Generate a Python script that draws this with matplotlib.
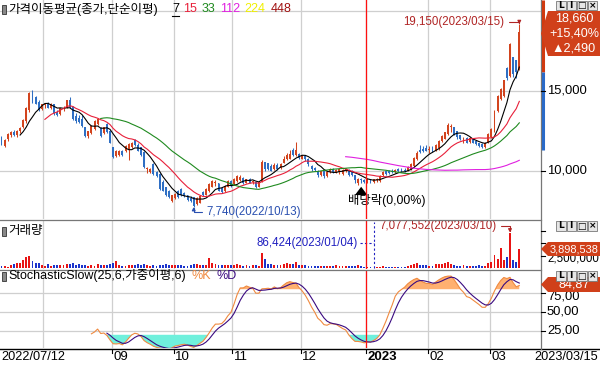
import numpy as np
import matplotlib
matplotlib.use("Agg")
import matplotlib.pyplot as plt
from matplotlib.patches import Polygon, Rectangle

# ---------------- data ----------------
open_ = [12050,11550,11950,12250,12400,12200,12450,12700,13100,13800,14950,14600,14300,13850,14100,14150,13950,14150,13650,13550,
         13900,13950,14450,14000,13400,13300,13250,12700,12150,12350,12600,12900,12650,12350,12900,12500,11450,10900,11000,11250,
         11200,11300,11450,11900,11600,11450,11150,10100,9900,10400,9900,9800,9300,8950,8750,8100,8300,8750,8850,8600,
         8450,8300,8350,7900,8000,8650,8500,8700,9000,9200,9200,8900,8700,9000,9350,9150,9350,9400,9550,9250,
         9450,9300,9300,9000,9300,10550,10450,10300,10100,10350,10150,10500,10700,10750,11300,10950,11050,10750,10900,10750,
         10300,10150,10000,9700,9950,9650,9900,10100,9900,9900,9800,9950,10050,10000,9700,9250,9500,9400,9300,9450,
         9300,9400,9350,9700,9950,9950,10000,9900,10100,10050,10050,10000,10100,10300,10700,11300,11350,11400,11300,11450,
         11250,11400,11850,12000,12300,12700,12750,12450,12200,11800,12050,11800,12000,11850,11700,11650,11450,11800,12100,12450,
         13700,14500,14700,16450,15900,17100,16900,16300]
high = [12150,12000,12350,12500,12550,12550,12700,13200,14000,14950,15050,14700,14400,14200,14250,14300,14250,14200,13800,13950,
        14050,14450,14600,14050,13600,13450,13450,12750,12500,12850,13150,13300,12700,12750,12950,12550,11500,11300,11300,11300,
        11600,11700,11800,11950,11700,11500,11200,10200,10150,10450,10000,9850,9400,9000,8800,8480,8600,8800,8900,8650,
        8480,8400,8380,8350,8480,8700,8900,9200,9420,9400,9250,8950,9100,9420,9400,9550,9730,9700,9600,9500,
        9520,9400,9320,9350,10670,10560,10500,10400,10450,10450,10450,10900,11100,11300,11400,11800,11100,11000,10950,10800,
        10350,10200,10050,10000,10000,10000,10150,10150,10100,10150,10100,10150,10100,10050,9720,9550,9550,9450,9500,9500,
        9500,9550,9700,9950,10000,10050,10100,10100,10150,10150,10150,10300,10450,10850,11200,11600,11550,11600,11550,11550,
        11650,11920,12200,12440,12960,12900,12750,12500,12250,12100,12100,12130,12050,11920,11750,11700,11800,12350,12650,13800,
        14750,15200,15700,16500,17960,17130,16920,19150]
low = [11600,11450,11850,12100,12150,12100,12350,12650,13000,13650,14250,14150,13700,13800,13950,13900,13850,13500,13400,13500,
       13700,13900,13900,13150,13000,12950,12700,12100,12050,12300,12550,12850,12100,12300,12350,11700,10800,10850,10900,10900,
       11150,10650,11400,11550,11200,10900,10150,9850,9850,9750,9600,8800,8700,8400,8300,8050,8250,8300,8400,8350,
       8100,8050,7740,7850,7950,8400,8480,8650,8950,9050,8700,8600,8650,8950,9000,9100,9300,9350,9150,9200,
       9200,9150,8900,8950,9300,10000,10050,9950,10050,10050,10100,10450,10650,10700,10900,10900,10700,10700,10600,10300,
       10000,9950,9600,9650,9550,9600,9850,9850,9850,9800,9750,9900,9650,9650,9250,9100,9250,9200,9200,9200,
       9200,9300,9300,9650,9750,9800,9850,9850,9900,9900,9900,9950,10050,10250,10650,11100,11150,11200,11100,11150,
       11200,11300,11800,11950,12250,12400,12200,12000,11900,11750,11700,11750,11700,11600,11500,11400,11400,11750,12050,12400,
       13650,14400,14600,15670,15880,15880,15770,16270]
close = [11650,11900,12300,12400,12200,12500,12650,13150,13900,14850,14300,14200,13800,14150,14200,13950,14200,13600,13500,13900,
         13950,14400,14000,13200,13100,13050,12800,12150,12450,12800,13100,13200,12150,12700,12400,11750,10850,11250,11200,10950,
         11550,11650,11750,11600,11250,10950,10200,10150,10100,9800,9650,8850,8750,8450,8350,8450,8550,8350,8450,8400,
         8150,8100,7800,8300,8400,8450,8850,9150,9350,9300,8750,8650,9050,9350,9050,9500,9650,9600,9200,9450,
         9250,9350,8950,9300,10550,10100,10100,10000,10350,10100,10400,10750,10950,11050,10950,11300,10800,10950,10700,10400,
         10100,10050,9700,9950,9650,9900,10100,9900,10050,10100,10050,10100,9700,9700,9400,9500,9400,9300,9450,9350,
         9450,9500,9650,9900,9800,9850,9900,10050,9950,9950,10000,10250,10400,10800,11100,11150,11200,11250,11350,11200,
         11600,11850,12150,12400,12850,12800,12250,12100,11950,12050,11750,12050,11750,11650,11550,11450,11750,12300,12600,13700,
         14650,15100,15650,15800,17900,16070,16170,18660]
volume = [450,430,330,660,860,1000,1100,1650,2300,2450,1460,1100,1100,660,460,860,520,700,640,560,
          620,900,760,980,700,820,600,560,480,620,540,760,680,560,720,880,1000,1500,650,540,
          480,700,560,620,760,700,820,560,450,640,520,600,580,760,680,620,700,640,560,480,
          520,580,760,900,680,560,600,2000,1100,760,620,680,560,720,640,600,900,700,520,560,
          480,600,640,520,3100,1800,760,900,700,620,580,900,1000,880,820,1200,700,560,620,480,
          420,460,380,520,440,400,480,420,560,460,420,380,480,520,460,560,400,340,280,300,
          86.424,200,320,360,300,280,260,300,340,280,300,420,560,900,1000,700,620,560,480,520,
          760,900,880,1000,1200,760,700,520,480,560,440,420,480,500,560,520,480,1100,1300,2600,
          1800,4000,1600,2200,7077.552,1600,1300,3898.538]
volume = [vv * 1000 for vv in volume]

first_date = "2022/07/12"
last_date = "2023/03/15"
max_date = "2023/03/15"
min_date = "2022/10/13"
vmax_date = "2023/03/10"
vmin_date = "2023/01/04"
month_start = [14, 36, 56, 75, 97, 118, 138, 158]
month_label = ["", "09", "10", "11", "12", "2023", "02", "03"]
ma_periods = [7, 15, 33, 112, 224, 448]
ma_colors = ["#000000", "#e8203a", "#1f8a1f", "#e020e0", "#f0f000", "#a01010"]
dividend_idx = 116
price_chg = 2490
price_pct = 15.40

# ---------------- helpers ----------------
o = np.array(open_, float); h = np.array(high, float)
l = np.array(low, float); c = np.array(close, float)
v = np.array(volume, float)
n = len(c)
x = np.arange(n)

def sma(a, p):
    out = np.full(len(a), np.nan)
    if len(a) >= p:
        out[p - 1:] = np.convolve(a, np.ones(p) / p, mode="valid")
    return out

def wma(a, p):
    out = np.full(len(a), np.nan)
    w = np.arange(1, p + 1, dtype=float)
    for i in range(p - 1, len(a)):
        seg = a[i - p + 1:i + 1]
        if np.isnan(seg).any():
            continue
        out[i] = (seg * w).sum() / w.sum()
    return out

fastk = np.full(n, np.nan)
for i in range(24, n):
    hh = h[i - 24:i + 1].max(); ll = l[i - 24:i + 1].min()
    fastk[i] = (c[i] - ll) / (hh - ll) * 100
slowk = wma(fastk, 6)
slowd = wma(slowk, 6)

RED = "#d2441e"
BLUE = "#2f6fc4"
VRED = "#e81414"
VBLUE = "#1c34cc"
GRID = "#cfcfcf"

plt.rcParams["font.family"] = ["Liberation Sans", "Noto Sans CJK KR", "DejaVu Sans"]
FS = 8.3
FR = 9.4

W, H = 600, 366
fig = plt.figure(figsize=(W / 100, H / 100), dpi=100)
fig.patch.set_facecolor("white")
renderer = fig.canvas.get_renderer()

def rect(x0, y0, x1, y1):
    return [x0 / W, 1 - y1 / H, (x1 - x0) / W, (y1 - y0) / H]

XL = (-0.48, 174.0)
ax = fig.add_axes(rect(0, 0, 541, 219))
axv = fig.add_axes(rect(0, 220, 541, 269))
axs = fig.add_axes(rect(0, 270, 541, 348))
ov = fig.add_axes([0, 0, 1, 1], zorder=20)
ov.set_xlim(0, W); ov.set_ylim(H, 0); ov.axis("off")
ov.patch.set_alpha(0)

def right_px(t):
    bb = t.get_window_extent(renderer=renderer)
    return bb.x1 / fig.dpi * 100

for a in (ax, axv, axs):
    a.set_xlim(*XL)
    a.set_xticks([]); a.set_yticks([])
    for s in a.spines.values():
        s.set_visible(False)
    for m in month_start:
        a.axvline(m - 0.5, color=GRID, lw=0.9, zorder=0)

# ---------------- price panel ----------------
ax.set_ylim(6981, 20669)
for lev in (10000, 15000, 20000):
    ax.axhline(lev, color=GRID, lw=0.9, zorder=0)
up = c >= o
cols = np.where(up, RED, BLUE)
ax.vlines(x, l, h, colors=cols, lw=0.75, zorder=3)
body_h = np.maximum(np.abs(c - o), 40)
ax.bar(x, body_h, bottom=np.minimum(o, c), width=0.62, color=cols, lw=0, zorder=4)
for p, col in zip(ma_periods, ma_colors):
    ax.plot(x, sma(c, p), color=col, lw=0.8, zorder=5)

imax = int(np.argmax(h)); imin = int(np.argmin(l))
ax.annotate(f"{h[imax]:,.0f}({max_date})", xy=(imax, h[imax]), xytext=(imax - 4.8, h[imax] + 150),
            ha="right", va="center", color="#b02424", fontsize=FS,
            arrowprops=dict(arrowstyle="-|>", color="#b02424", lw=0.8, mutation_scale=5,
                            connectionstyle="angle,angleA=0,angleB=90,rad=0", shrinkA=1, shrinkB=0))
ax.annotate(f"{l[imin]:,.0f}({min_date})", xy=(imin, l[imin]), xytext=(imin + 4, l[imin] - 300),
            ha="left", va="center", color="#2a50b0", fontsize=FS,
            arrowprops=dict(arrowstyle="-|>", color="#2a50b0", lw=0.8, mutation_scale=5,
                            connectionstyle="angle,angleA=0,angleB=90,rad=0", shrinkA=1, shrinkB=0))
ax.annotate("", xy=(dividend_idx, l[dividend_idx] - 80), xytext=(dividend_idx, l[dividend_idx] - 600),
            arrowprops=dict(arrowstyle="simple,head_width=0.9,head_length=0.6,tail_width=0.35",
                            color="black", lw=0))
ax.text(dividend_idx + 8.3, l[dividend_idx] - 1120, "배당락(0,00%)", ha="center", va="center",
        fontsize=FS + 0.6, color="black")

# ---------------- volume panel ----------------
axv.set_ylim(-1.4e5, 9.6e6)
vcols = np.where(up, VRED, VBLUE)
axv.bar(x, v, width=0.6, color=vcols, lw=0, zorder=3)
ivmax = int(np.argmax(v)); ivmin = int(np.argmin(v))
axv.annotate(f"{v[ivmax]:,.0f}({vmax_date})", xy=(ivmax, v[ivmax]), xytext=(ivmax - 4.3, 8.4e6),
             ha="right", va="center", color="#b02424", fontsize=FS,
             arrowprops=dict(arrowstyle="-|>", color="#b02424", lw=0.8, mutation_scale=5,
                             connectionstyle="angle,angleA=0,angleB=90,rad=0", shrinkA=1, shrinkB=0))
axv.axvline(ivmin + 0.2, ymin=0.02, ymax=0.95, color="#2020c0", lw=0.8, ls=(0, (2, 2)), zorder=2)
axv.plot([ivmin - 4.5, ivmin + 0.2], [5.1e6, 5.1e6], color="#2020c0", lw=0.8, ls=(0, (2, 2)))
axv.text(ivmin - 5.2, 5.1e6, f"{v[ivmin]:,.0f}({vmin_date})", ha="right", va="center",
         color="#2020c0", fontsize=FS)

# ---------------- stochastic panel ----------------
axs.set_ylim(2.6, 105.3)
for lev in (25, 50, 75):
    axs.axhline(lev, color=GRID, lw=0.9, zorder=0)
axs.fill_between(x, slowk, 80, where=slowk > 80, interpolate=True, color="#ffb070", lw=0, zorder=1)
axs.fill_between(x, slowk, 20, where=slowk < 20, interpolate=True, color="#6ff0dc", lw=0, zorder=1)
axs.plot(x, slowk, color="#f08a40", lw=0.8, zorder=3)
axs.plot(x, slowd, color="#3a0a80", lw=0.8, zorder=3)

for a in (ax, axv, axs):
    a.axvline(month_start[5] - 0.5, color="#ff1010", lw=0.9, zorder=6)

# ---------------- frame / separators ----------------
ov.plot([0, 541], [219.5, 219.5], color="#777777", lw=0.9)
ov.plot([0, 541], [269.5, 269.5], color="#777777", lw=0.9)
ov.plot([0, 600], [348.5, 348.5], color="black", lw=1.0)
ov.plot([541, 541], [0, 348.5], color="#777777", lw=0.9)
ov.plot([542.5, 542.5], [0, 72], color="#d03a10", lw=2.2, solid_capstyle="butt")
ov.plot([542.5, 542.5], [72, 150], color="#2a6ac8", lw=2.2, solid_capstyle="butt")

def pxy(val, a):
    d = a.transData.transform((0, val))
    f = fig.transFigure.inverted().transform(d)
    return (1 - f[1]) * H

for lev in (15000, 10000):
    yy = pxy(lev, ax)
    ov.plot([541, 545], [yy, yy], color="black", lw=0.8)
    ov.text(547, yy, f"{lev:,}", ha="left", va="center", fontsize=FR)
for lev in (2500000, 5000000, 7500000):
    yy = pxy(lev, axv)
    ov.plot([541, 545], [yy, yy], color="black", lw=0.8)
ov.text(547, pxy(2500000, axv) + 2.5, "2,500,000", ha="left", va="center", fontsize=FS)
for lev in (75, 50, 25):
    yy = pxy(lev, axs)
    ov.plot([541, 545], [yy, yy], color="black", lw=0.8)
    ov.text(547, yy + (3.5 if lev == 75 else 0), f"{lev},00", ha="left", va="center", fontsize=FR)

def tag(y0, y1, lines, fs, xl=541, xr=600):
    ym = (y0 + y1) / 2
    poly = Polygon([[xl, ym], [xl + 7, y0], [xr, y0], [xr, y1], [xl + 7, y1]], closed=True,
                   facecolor="#d0401a", edgecolor="none", zorder=30)
    ov.add_patch(poly)
    k = len(lines)
    for j, t in enumerate(lines):
        yy = y0 + (y1 - y0) * (j + 0.5) / k
        ov.text((xl + 7 + xr) / 2, yy, t, ha="center", va="center", color="white",
                fontsize=fs, zorder=31)

tag(11, 56, [f"{c[-1]:,.0f}", f"+{price_pct:.2f}%".replace(".", ","), f"▲{price_chg:,}"], FS + 0.8)
tag(242, 256, [f"{v[-1]:,.0f}"], 7.9)
tag(277, 292, [f"{slowk[-1]:.2f}".replace(".", ",")], FS + 0.8)

def icons(y):
    for j, t in enumerate(["L", "I", "□", "×"]):
        x0 = 556 + j * 10.5
        ov.add_patch(Rectangle((x0, y), 9.5, 9.5, facecolor="#e6e6e6", edgecolor="#777777",
                               lw=0.6, zorder=32))
        ov.text(x0 + 4.75, y + 5, t, ha="center", va="center", fontsize=6.5,
                fontweight="bold", zorder=33, family=["DejaVu Sans"])
icons(0.5); icons(221); icons(271)

def title_icon(y):
    ov.add_patch(Rectangle((2, y - 4.5), 4, 9, facecolor="#888888", edgecolor="#333333", lw=0.6))
title_icon(9)
t0 = ov.text(8, 9.5, "가격이동평균(종가,단순이평)", ha="left", va="center", fontsize=FS + 0.7)
xx = max(right_px(t0) + 6, 172)
for p, col in zip(ma_periods, ma_colors):
    tt = ov.text(xx, 9.5, str(p), ha="left", va="center", fontsize=FS + 0.7, color=col)
    xr_ = right_px(tt)
    if p == 7:
        ov.plot([xx, xr_], [15.5, 15.5], color="black", lw=0.8)
    xx = xr_ + 4.5
title_icon(231)
ov.text(8, 231, "거래량", ha="left", va="center", fontsize=FS + 0.7)
title_icon(276)
t1 = ov.text(8, 276, "StochasticSlow(25,6,가중이평,6)", ha="left", va="center", fontsize=FS + 0.7)
xk = right_px(t1) + 6
tk = ov.text(xk, 276, "%K", ha="left", va="center", fontsize=FS + 0.7, color="#f08a40")
ov.text(right_px(tk) + 5, 276, "%D", ha="left", va="center", fontsize=FS + 0.7, color="#3a0a80")

def ixp(i):
    d = ax.transData.transform((i, 0))
    return fig.transFigure.inverted().transform(d)[0] * W

ov.text(1, 357, first_date, ha="left", va="center", fontsize=FS + 0.9)
for m, lab in zip(month_start, month_label):
    if not lab:
        continue
    xp = ixp(m - 0.5)
    ov.plot([xp, xp], [348.5, 353], color="black", lw=0.8)
    ov.text(xp + 1.5, 357, lab, ha="left", va="center", fontsize=FS + 1.2,
            fontweight="bold" if lab == "2023" else "normal")
ov.text(598, 357, last_date, ha="right", va="center", fontsize=FS + 0.9)

fig.savefig("out.png", dpi=100, facecolor="white")
